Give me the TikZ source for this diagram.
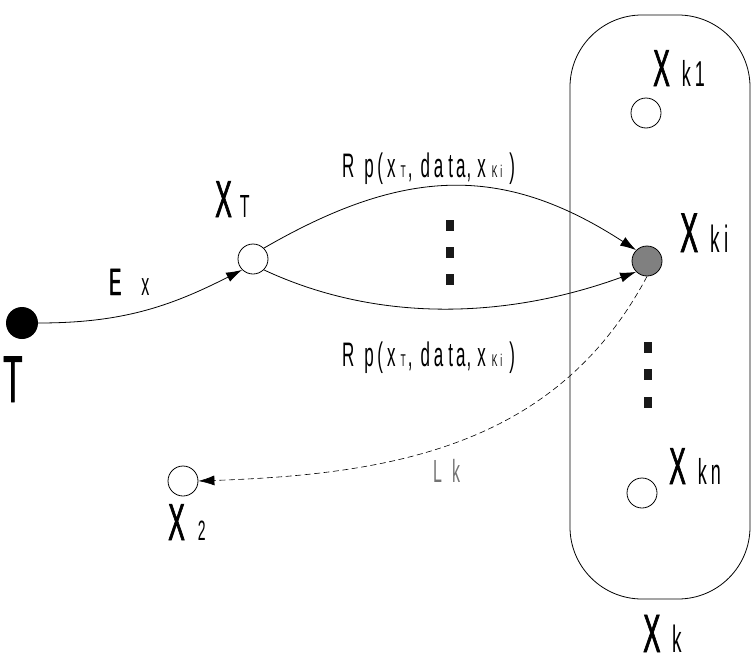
\documentclass[tikz,border=0pt]{standalone}
\usepackage{fontspec}
\newfontfamily\cf{Liberation Sans}[FakeStretch=0.48,FakeBold=1.2]
\newfontfamily\cfl{Liberation Sans}[FakeStretch=0.5]
\usetikzlibrary{arrows.meta}
\tikzset{
  x=1pt,y=-1pt,
  open/.style={circle,draw,line width=0.8pt,minimum size=30pt,inner sep=0pt},
  tip/.style={-{Latex[length=16pt,width=10pt]},line width=0.8pt},
  lbl/.style={anchor=base west,inner sep=0pt,text=black},
  dotsq/.style={fill=black!90,minimum width=8pt,minimum height=11pt,inner sep=0pt},
}
\newcommand{\fs}[1]{\cf\fontsize{#1}{#1}\selectfont}
\newcommand{\fl}[1]{\cfl\fontsize{#1}{#1}\selectfont}
\newcommand{\rplabel}{\fl{34}R\hspace{10pt}p\hspace{3.5pt}(\hspace{4pt}x\hspace{5pt}{\fl{17}T}\hspace{2pt},\hspace{8pt}d\hspace{4pt}a\hspace{5pt}t\hspace{3pt}a\hspace{1pt},\hspace{6pt}x\hspace{6pt}{\fl{17}K\hspace{3pt}i}\hspace{7pt})}
\begin{document}
\begin{tikzpicture}
\useasboundingbox (0,0) rectangle (753,664);
% container
\node[draw,line width=0.8pt,rounded corners=72pt,minimum width=180pt,minimum height=584pt,inner sep=0pt] (Xk) at (660,307) {};
% nodes
\node[circle,fill=black,minimum size=32pt,inner sep=0pt] (T) at (22,323) {};
\node[open] (XT) at (253,259) {};
\node[open,fill=black!50] (Xki) at (647,261) {};
\node[open] (Xk1) at (646,113) {};
\node[open] (Xkn) at (642,493) {};
\node[open] (X2) at (183,481) {};
% dots
\node[dotsq] (d1) at (450,225.5) {};
\node[dotsq] (d2) at (450,252.5) {};
\node[dotsq] (d3) at (450,279.5) {};
\node[dotsq] (e1) at (648,347.5) {};
\node[dotsq] (e2) at (648,374.5) {};
\node[dotsq] (e3) at (648,402.5) {};
% connectors
\draw[tip] (T.east) to[out=0,in=207] (XT.south west);
\draw[tip] (XT.north east) to[out=30,in=147,looseness=1.1] (Xki.north west);
\draw[tip] (XT.south east) to[out=-25,in=200,looseness=0.9] (Xki.south west);
\draw[tip,dash pattern=on 6pt off 3.5pt,line width=0.6pt] (Xki.south) to[out=-118,in=2,looseness=1.0] (X2.east);
% labels
\node[lbl] (lT) at (3,402) {\fs{66}T};
\node[lbl] (lEx) at (109,295) {\fs{38}E\hspace{20pt}\fl{32}x};
\node[lbl] (lXT) at (215,217) {\fs{52}X\hspace{8pt}\fl{32}T};
\node[lbl] (lXki) at (680,252) {\fs{56}X\hspace{12pt}\fl{38}k\hspace{5pt}i};
\node[lbl] (lXk1) at (653,86) {\fs{52}X\hspace{12pt}\fl{36}k\hspace{4pt}1};
\node[lbl] (lXkn) at (669,484) {\fs{52}X\hspace{12pt}\fl{36}k\hspace{4pt}n};
\node[lbl] (lXk) at (643,652) {\fs{54}X\hspace{12pt}\fl{38}k};
\node[lbl] (lX2) at (168,540) {\fs{52}X\hspace{13pt}\fl{28}2};
\node[lbl,text=black!55] (lLk) at (433,482) {\fl{32}L\hspace{10pt}k};
\node[lbl] (lRp1) at (342,177) {\rplabel};
\node[lbl] (lRp2) at (342,366) {\rplabel};
\end{tikzpicture}
\end{document}
